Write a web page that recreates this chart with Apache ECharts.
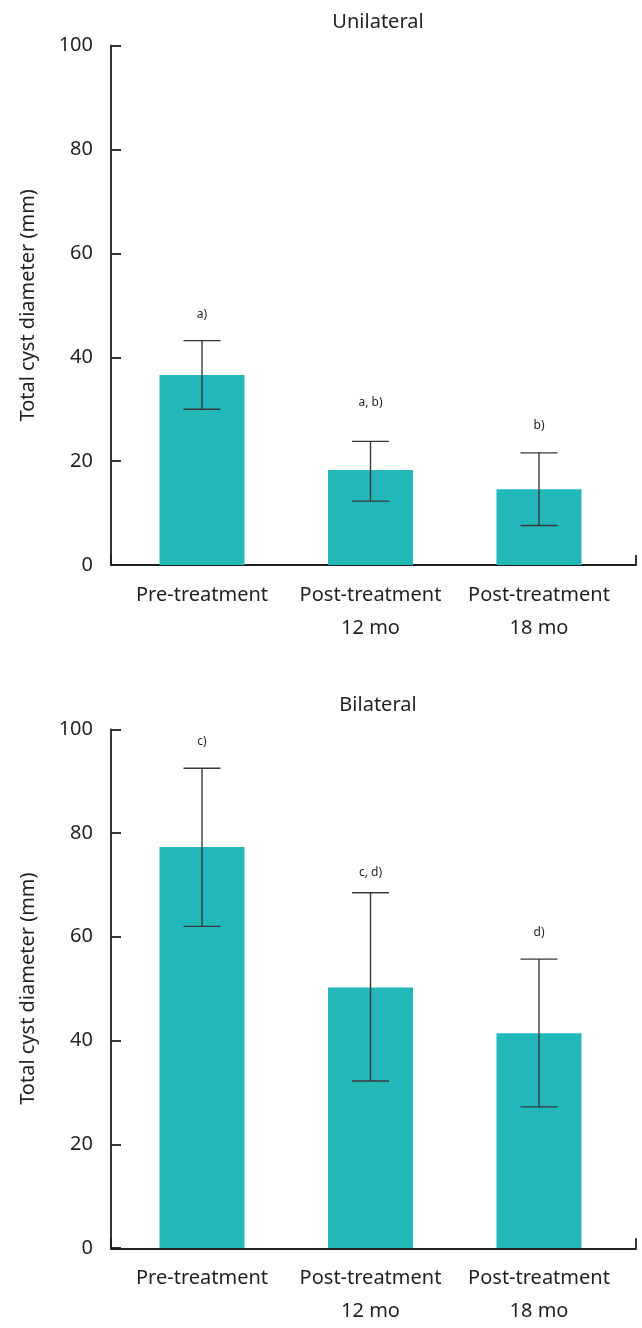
<!DOCTYPE html>
<html>
<head>
<meta charset="utf-8">
<script src="https://cdn.jsdelivr.net/npm/echarts@6/dist/echarts.min.js"></script>
<style>
html,body{margin:0;padding:0;background:#fff;}
#chart{width:642px;height:1328px;}
</style>
</head>
<body>
<div id="chart"></div>
<script>
// ---- data ----
const categories = ['Pre-treatment', 'Post-treatment\n12 mo', 'Post-treatment\n18 mo'];
const yTicks = [0, 20, 40, 60, 80, 100];

const uniMean  = [36.6, 18.3, 14.6];
const uniUpper = [43.2, 23.8, 21.6];
const uniLower = [30.0, 12.3, 7.6];
const uniNotes = ['a)', 'a, b)', 'b)'];
const uniNoteAt = [48.3, 31.2, 26.8];

const biMean  = [77.3, 50.2, 41.4];
const biUpper = [92.5, 68.5, 55.7];
const biLower = [62.0, 32.2, 27.2];
const biNotes = ['c)', 'c, d)', 'd)'];
const biNoteAt = [97.6, 72.4, 60.9];

const titles = ['Unilateral', 'Bilateral'];
const yName = 'Total cyst diameter (mm)';

// ---- style ----
const FONT = '"Noto Sans", sans-serif';
const INK = '#231f20';
const BAR = '#22b8ba';

const chart = echarts.init(document.getElementById('chart'));

const panels = [
  {top: 45.7, height: 519.3},
  {top: 729.3, height: 519}
];

function errSeries(upper, lower, noteAt, notes, axisIdx) {
  return {
    type: 'custom',
    xAxisIndex: axisIdx, yAxisIndex: axisIdx,
    z: 5,
    data: categories.map((c, i) => [i, upper[i], lower[i], noteAt[i]]),
    renderItem: function (params, api) {
      const i = api.value(0);
      const hi = api.coord([i, api.value(1)]);
      const lo = api.coord([i, api.value(2)]);
      const nt = api.coord([i, api.value(3)]);
      const hw = 18.5;
      const st = {stroke: '#383838', lineWidth: 1.4};
      return {
        type: 'group',
        children: [
          {type: 'line', shape: {x1: hi[0], y1: hi[1], x2: lo[0], y2: lo[1]}, style: st},
          {type: 'line', shape: {x1: hi[0] - hw, y1: hi[1], x2: hi[0] + hw, y2: hi[1]}, style: st},
          {type: 'line', shape: {x1: lo[0] - hw, y1: lo[1], x2: lo[0] + hw, y2: lo[1]}, style: st},
          {type: 'text', x: nt[0], y: nt[1], style: {
            text: notes[params.dataIndex], textAlign: 'center', textVerticalAlign: 'middle',
            font: '12px ' + FONT, fill: INK}}
        ]
      };
    }
  };
}

const grids = [], xAxes = [], yAxes = [], series = [], titleOpts = [];
const sets = [
  [uniMean, uniUpper, uniLower, uniNoteAt, uniNotes],
  [biMean, biUpper, biLower, biNoteAt, biNotes]
];

panels.forEach((p, k) => {
  grids.push({left: 117.75, width: 505.5, top: p.top, height: p.height});
  grids.push({left: 111, width: 525, top: p.top, height: p.height});
  const gBar = 2 * k, gFrame = 2 * k + 1;

  xAxes.push({
    type: 'category', gridIndex: gBar, data: categories,
    axisLine: {show: false}, axisTick: {show: false},
    axisLabel: {interval: 0, color: INK, fontFamily: FONT, fontSize: 20, margin: 14, lineHeight: 33}
  });
  yAxes.push({
    type: 'value', gridIndex: gBar, min: yTicks[0], max: yTicks[yTicks.length - 1], interval: 20,
    offset: 6.75,
    name: yName, nameLocation: 'middle', nameGap: 73,
    nameTextStyle: {color: INK, fontFamily: FONT, fontSize: 20},
    axisLine: {show: true, lineStyle: {color: INK, width: 1.8}},
    axisTick: {show: true, inside: true, length: 10, lineStyle: {color: INK, width: 1.8}},
    axisLabel: {color: INK, fontFamily: FONT, fontSize: 20, margin: 18},
    splitLine: {show: false}
  });
  xAxes.push({
    type: 'value', gridIndex: gFrame, min: 0, max: 1, interval: 1,
    axisLine: {show: true, onZero: false, lineStyle: {color: INK, width: 1.8}},
    axisTick: {show: true, inside: true, length: 10, lineStyle: {color: INK, width: 1.8}},
    axisLabel: {show: false}, splitLine: {show: false}
  });
  yAxes.push({
    type: 'value', gridIndex: gFrame, min: 0, max: 100, show: false
  });

  const [mean, up, lo, nAt, notes] = sets[k];
  series.push({
    type: 'bar', xAxisIndex: 2 * k, yAxisIndex: 2 * k, data: mean,
    barWidth: 85, itemStyle: {color: BAR}, z: 2, silent: true
  });
  series.push(errSeries(up, lo, nAt, notes, 2 * k));

  titleOpts.push({
    text: titles[k], left: 373, top: k === 0 ? 7 : 690, textAlign: 'center',
    textStyle: {color: INK, fontFamily: FONT, fontSize: 20, fontWeight: 'normal'}
  });
});

chart.setOption({
  animation: false,
  backgroundColor: '#fff',
  title: titleOpts,
  grid: grids,
  xAxis: xAxes,
  yAxis: yAxes,
  series: series
});
</script>
</body>
</html>
